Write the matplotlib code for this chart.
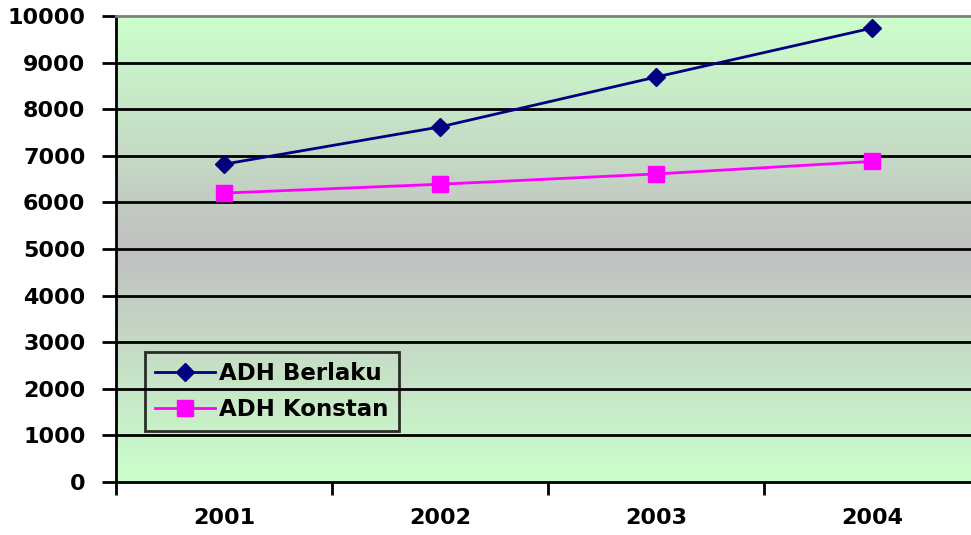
import numpy as np
import matplotlib
matplotlib.use("Agg")
import matplotlib.pyplot as plt
from matplotlib.colors import LinearSegmentedColormap

years = ["2001", "2002", "2003", "2004"]
berlaku = [6820, 7620, 8690, 9740]
konstan = [6200, 6390, 6610, 6880]
yticks = list(range(0, 10001, 1000))

plt.rcParams['font.family'] = ['DejaVu Sans']
plt.rcParams['font.weight'] = 'bold'

fig = plt.figure(figsize=(9.71, 5.35), dpi=100)
ax = fig.add_axes([116/971, 1 - 482/535, 864/971, 466/535])

# gradient background: light green top/bottom, grey in the middle
cmap = LinearSegmentedColormap.from_list("bg", ["#CCFFCC", "#C0C0C0", "#CCFFCC"])
grad = np.linspace(0, 1, 256).reshape(-1, 1)
ax.imshow(grad, aspect='auto', cmap=cmap, extent=[-0.5, 3.5, 0, 10000],
          zorder=0, interpolation='bilinear')

x = np.arange(len(years))
ax.set_xlim(-0.5, 3.5)
ax.set_ylim(0, 10000)

for yv in yticks[1:-1]:
    ax.axhline(yv, color='black', lw=2, zorder=1)

ax.plot(x, berlaku, color='#000080', lw=2, marker='D', ms=9,
        label='ADH Berlaku', zorder=3)
ax.plot(x, konstan, color='#FF00FF', lw=2, marker='s', ms=11,
        label='ADH Konstan', zorder=3)

ax.set_yticks(yticks)
ax.set_yticklabels([str(v) for v in yticks], fontsize=16, fontweight='bold')
ax.set_xticks(x)
ax.set_xticklabels(years, fontsize=16, fontweight='bold')
ax.set_xticks(np.arange(-0.5, 4, 1), minor=True)
ax.tick_params(axis='x', which='major', length=0, pad=19)
ax.tick_params(axis='x', which='minor', length=9, width=2, direction='out')
ax.tick_params(axis='y', length=10, width=2, direction='out', pad=12)

ax.spines['top'].set_color('#808080')
ax.spines['top'].set_linewidth(2)
ax.spines['left'].set_linewidth(2)
ax.spines['bottom'].set_linewidth(2)
ax.spines['right'].set_visible(False)

leg = ax.legend(loc='lower left', bbox_to_anchor=(29/864, 51/466),
                prop={'size': 16.5, 'weight': 'bold'}, frameon=True,
                fancybox=False, borderpad=0.45, handlelength=2.6,
                handletextpad=0.2, labelspacing=0.55, borderaxespad=0)
leg.get_frame().set_edgecolor('black')
leg.get_frame().set_linewidth(2)
leg.get_frame().set_facecolor('none')

fig.savefig("out.png", dpi=100)
